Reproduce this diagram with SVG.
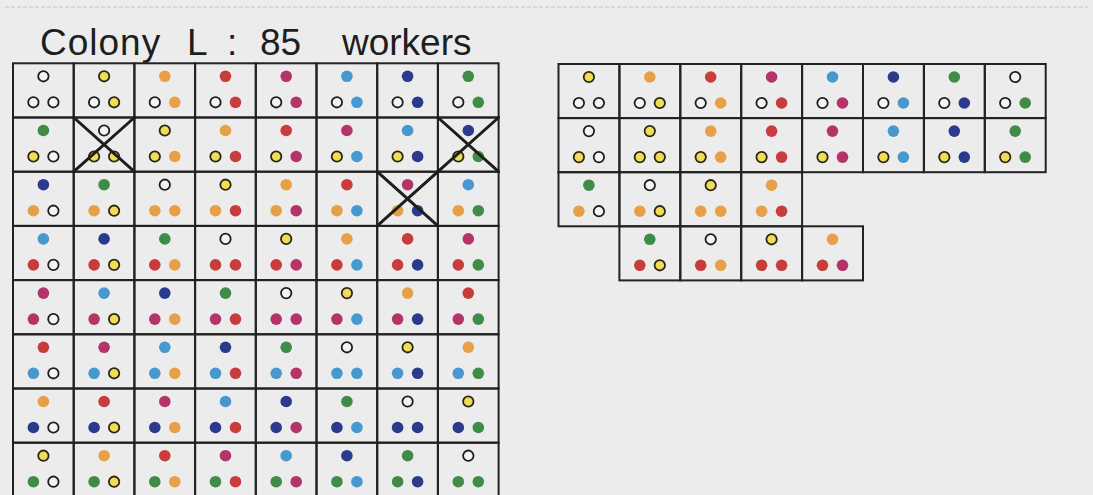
<svg xmlns="http://www.w3.org/2000/svg" xmlns:xlink="http://www.w3.org/1999/xlink" width="1093" height="495" viewBox="0 0 1093 495">
<style>
.bg{fill:#ececec}
.cl{fill:none;stroke:#222;stroke-width:2}
.c0{fill:#f4f4f4;stroke:#1e1e1e;stroke-width:1.8}
.c1{fill:#f0dc58;stroke:#2a2612;stroke-width:1.8}
.c2{fill:#e8a048}
.c3{fill:#c83c3c}
.c4{fill:#b4346a}
.c5{fill:#4898d0}
.c6{fill:#2c3a8e}
.c7{fill:#3e8c48}
.x{stroke:#1e1e1e;stroke-width:3;stroke-linecap:round}
.title{font-family:"Liberation Sans",Arial,sans-serif;font-size:37px;fill:#1e1e1e}
</style>
<defs>
<rect id="ka" class="cl" width="60.7" height="54.2"/>
<rect id="kb" class="cl" width="60.9" height="54.1"/>
<circle id="t0" class="c0" cx="30.4" cy="13" r="5.2"/>
<circle id="t1" class="c1" cx="30.4" cy="13" r="5.2"/>
<circle id="t2" class="c2" cx="30.4" cy="13" r="5.8"/>
<circle id="t3" class="c3" cx="30.4" cy="13" r="5.8"/>
<circle id="t4" class="c4" cx="30.4" cy="13" r="5.8"/>
<circle id="t5" class="c5" cx="30.4" cy="13" r="5.8"/>
<circle id="t6" class="c6" cx="30.4" cy="13" r="5.8"/>
<circle id="t7" class="c7" cx="30.4" cy="13" r="5.8"/>
<circle id="l0" class="c0" cx="20.4" cy="39" r="5.2"/>
<circle id="l1" class="c1" cx="20.4" cy="39" r="5.2"/>
<circle id="l2" class="c2" cx="20.4" cy="39" r="5.8"/>
<circle id="l3" class="c3" cx="20.4" cy="39" r="5.8"/>
<circle id="l4" class="c4" cx="20.4" cy="39" r="5.8"/>
<circle id="l5" class="c5" cx="20.4" cy="39" r="5.8"/>
<circle id="l6" class="c6" cx="20.4" cy="39" r="5.8"/>
<circle id="l7" class="c7" cx="20.4" cy="39" r="5.8"/>
<circle id="r0" class="c0" cx="40.4" cy="39" r="5.2"/>
<circle id="r1" class="c1" cx="40.4" cy="39" r="5.2"/>
<circle id="r2" class="c2" cx="40.4" cy="39" r="5.8"/>
<circle id="r3" class="c3" cx="40.4" cy="39" r="5.8"/>
<circle id="r4" class="c4" cx="40.4" cy="39" r="5.8"/>
<circle id="r5" class="c5" cx="40.4" cy="39" r="5.8"/>
<circle id="r6" class="c6" cx="40.4" cy="39" r="5.8"/>
<circle id="r7" class="c7" cx="40.4" cy="39" r="5.8"/>
</defs>
<rect class="bg" x="0" y="0" width="1093" height="495"/>
<line x1="5" y1="7" x2="1088" y2="7" stroke="#c6c6c6" stroke-width="1" stroke-dasharray="4 2"/>
<g id="title">
<text class="title" y="55"><tspan x="40" letter-spacing="1">Colony</tspan><tspan x="187">L</tspan><tspan x="227">:</tspan><tspan x="260">85</tspan><tspan x="342">workers</tspan></text>
</g>
<g id="left-grid">
<g id="a00" transform="translate(13 63.3)"><use href="#ka"/><use href="#t0"/><use href="#l0"/><use href="#r0"/></g>
<g id="a01" transform="translate(73.7 63.3)"><use href="#ka"/><use href="#t1"/><use href="#l0"/><use href="#r1"/></g>
<g id="a02" transform="translate(134.4 63.3)"><use href="#ka"/><use href="#t2"/><use href="#l0"/><use href="#r2"/></g>
<g id="a03" transform="translate(195.1 63.3)"><use href="#ka"/><use href="#t3"/><use href="#l0"/><use href="#r3"/></g>
<g id="a04" transform="translate(255.8 63.3)"><use href="#ka"/><use href="#t4"/><use href="#l0"/><use href="#r4"/></g>
<g id="a05" transform="translate(316.5 63.3)"><use href="#ka"/><use href="#t5"/><use href="#l0"/><use href="#r5"/></g>
<g id="a06" transform="translate(377.2 63.3)"><use href="#ka"/><use href="#t6"/><use href="#l0"/><use href="#r6"/></g>
<g id="a07" transform="translate(437.9 63.3)"><use href="#ka"/><use href="#t7"/><use href="#l0"/><use href="#r7"/></g>

<g id="a10" transform="translate(13 117.5)"><use href="#ka"/><use href="#t7"/><use href="#l1"/><use href="#r0"/></g>
<g id="a11" transform="translate(73.7 117.5)"><use href="#ka"/><use href="#t0"/><use href="#l1"/><use href="#r1"/></g>
<g id="a12" transform="translate(134.4 117.5)"><use href="#ka"/><use href="#t1"/><use href="#l1"/><use href="#r2"/></g>
<g id="a13" transform="translate(195.1 117.5)"><use href="#ka"/><use href="#t2"/><use href="#l1"/><use href="#r3"/></g>
<g id="a14" transform="translate(255.8 117.5)"><use href="#ka"/><use href="#t3"/><use href="#l1"/><use href="#r4"/></g>
<g id="a15" transform="translate(316.5 117.5)"><use href="#ka"/><use href="#t4"/><use href="#l1"/><use href="#r5"/></g>
<g id="a16" transform="translate(377.2 117.5)"><use href="#ka"/><use href="#t5"/><use href="#l1"/><use href="#r6"/></g>
<g id="a17" transform="translate(437.9 117.5)"><use href="#ka"/><use href="#t6"/><use href="#l1"/><use href="#r7"/></g>

<g id="a20" transform="translate(13 171.7)"><use href="#ka"/><use href="#t6"/><use href="#l2"/><use href="#r0"/></g>
<g id="a21" transform="translate(73.7 171.7)"><use href="#ka"/><use href="#t7"/><use href="#l2"/><use href="#r1"/></g>
<g id="a22" transform="translate(134.4 171.7)"><use href="#ka"/><use href="#t0"/><use href="#l2"/><use href="#r2"/></g>
<g id="a23" transform="translate(195.1 171.7)"><use href="#ka"/><use href="#t1"/><use href="#l2"/><use href="#r3"/></g>
<g id="a24" transform="translate(255.8 171.7)"><use href="#ka"/><use href="#t2"/><use href="#l2"/><use href="#r4"/></g>
<g id="a25" transform="translate(316.5 171.7)"><use href="#ka"/><use href="#t3"/><use href="#l2"/><use href="#r5"/></g>
<g id="a26" transform="translate(377.2 171.7)"><use href="#ka"/><use href="#t4"/><use href="#l2"/><use href="#r6"/></g>
<g id="a27" transform="translate(437.9 171.7)"><use href="#ka"/><use href="#t5"/><use href="#l2"/><use href="#r7"/></g>

<g id="a30" transform="translate(13 225.9)"><use href="#ka"/><use href="#t5"/><use href="#l3"/><use href="#r0"/></g>
<g id="a31" transform="translate(73.7 225.9)"><use href="#ka"/><use href="#t6"/><use href="#l3"/><use href="#r1"/></g>
<g id="a32" transform="translate(134.4 225.9)"><use href="#ka"/><use href="#t7"/><use href="#l3"/><use href="#r2"/></g>
<g id="a33" transform="translate(195.1 225.9)"><use href="#ka"/><use href="#t0"/><use href="#l3"/><use href="#r3"/></g>
<g id="a34" transform="translate(255.8 225.9)"><use href="#ka"/><use href="#t1"/><use href="#l3"/><use href="#r4"/></g>
<g id="a35" transform="translate(316.5 225.9)"><use href="#ka"/><use href="#t2"/><use href="#l3"/><use href="#r5"/></g>
<g id="a36" transform="translate(377.2 225.9)"><use href="#ka"/><use href="#t3"/><use href="#l3"/><use href="#r6"/></g>
<g id="a37" transform="translate(437.9 225.9)"><use href="#ka"/><use href="#t4"/><use href="#l3"/><use href="#r7"/></g>

<g id="a40" transform="translate(13 280.1)"><use href="#ka"/><use href="#t4"/><use href="#l4"/><use href="#r0"/></g>
<g id="a41" transform="translate(73.7 280.1)"><use href="#ka"/><use href="#t5"/><use href="#l4"/><use href="#r1"/></g>
<g id="a42" transform="translate(134.4 280.1)"><use href="#ka"/><use href="#t6"/><use href="#l4"/><use href="#r2"/></g>
<g id="a43" transform="translate(195.1 280.1)"><use href="#ka"/><use href="#t7"/><use href="#l4"/><use href="#r3"/></g>
<g id="a44" transform="translate(255.8 280.1)"><use href="#ka"/><use href="#t0"/><use href="#l4"/><use href="#r4"/></g>
<g id="a45" transform="translate(316.5 280.1)"><use href="#ka"/><use href="#t1"/><use href="#l4"/><use href="#r5"/></g>
<g id="a46" transform="translate(377.2 280.1)"><use href="#ka"/><use href="#t2"/><use href="#l4"/><use href="#r6"/></g>
<g id="a47" transform="translate(437.9 280.1)"><use href="#ka"/><use href="#t3"/><use href="#l4"/><use href="#r7"/></g>

<g id="a50" transform="translate(13 334.3)"><use href="#ka"/><use href="#t3"/><use href="#l5"/><use href="#r0"/></g>
<g id="a51" transform="translate(73.7 334.3)"><use href="#ka"/><use href="#t4"/><use href="#l5"/><use href="#r1"/></g>
<g id="a52" transform="translate(134.4 334.3)"><use href="#ka"/><use href="#t5"/><use href="#l5"/><use href="#r2"/></g>
<g id="a53" transform="translate(195.1 334.3)"><use href="#ka"/><use href="#t6"/><use href="#l5"/><use href="#r3"/></g>
<g id="a54" transform="translate(255.8 334.3)"><use href="#ka"/><use href="#t7"/><use href="#l5"/><use href="#r4"/></g>
<g id="a55" transform="translate(316.5 334.3)"><use href="#ka"/><use href="#t0"/><use href="#l5"/><use href="#r5"/></g>
<g id="a56" transform="translate(377.2 334.3)"><use href="#ka"/><use href="#t1"/><use href="#l5"/><use href="#r6"/></g>
<g id="a57" transform="translate(437.9 334.3)"><use href="#ka"/><use href="#t2"/><use href="#l5"/><use href="#r7"/></g>

<g id="a60" transform="translate(13 388.5)"><use href="#ka"/><use href="#t2"/><use href="#l6"/><use href="#r0"/></g>
<g id="a61" transform="translate(73.7 388.5)"><use href="#ka"/><use href="#t3"/><use href="#l6"/><use href="#r1"/></g>
<g id="a62" transform="translate(134.4 388.5)"><use href="#ka"/><use href="#t4"/><use href="#l6"/><use href="#r2"/></g>
<g id="a63" transform="translate(195.1 388.5)"><use href="#ka"/><use href="#t5"/><use href="#l6"/><use href="#r3"/></g>
<g id="a64" transform="translate(255.8 388.5)"><use href="#ka"/><use href="#t6"/><use href="#l6"/><use href="#r4"/></g>
<g id="a65" transform="translate(316.5 388.5)"><use href="#ka"/><use href="#t7"/><use href="#l6"/><use href="#r5"/></g>
<g id="a66" transform="translate(377.2 388.5)"><use href="#ka"/><use href="#t0"/><use href="#l6"/><use href="#r6"/></g>
<g id="a67" transform="translate(437.9 388.5)"><use href="#ka"/><use href="#t1"/><use href="#l6"/><use href="#r7"/></g>

<g id="a70" transform="translate(13 442.7)"><use href="#ka"/><use href="#t1"/><use href="#l7"/><use href="#r0"/></g>
<g id="a71" transform="translate(73.7 442.7)"><use href="#ka"/><use href="#t2"/><use href="#l7"/><use href="#r1"/></g>
<g id="a72" transform="translate(134.4 442.7)"><use href="#ka"/><use href="#t3"/><use href="#l7"/><use href="#r2"/></g>
<g id="a73" transform="translate(195.1 442.7)"><use href="#ka"/><use href="#t4"/><use href="#l7"/><use href="#r3"/></g>
<g id="a74" transform="translate(255.8 442.7)"><use href="#ka"/><use href="#t5"/><use href="#l7"/><use href="#r4"/></g>
<g id="a75" transform="translate(316.5 442.7)"><use href="#ka"/><use href="#t6"/><use href="#l7"/><use href="#r5"/></g>
<g id="a76" transform="translate(377.2 442.7)"><use href="#ka"/><use href="#t7"/><use href="#l7"/><use href="#r6"/></g>
<g id="a77" transform="translate(437.9 442.7)"><use href="#ka"/><use href="#t0"/><use href="#l7"/><use href="#r7"/></g>
</g>
<g id="right-grid">
<g id="b00" transform="translate(558.5 64)"><use href="#kb"/><use href="#t1"/><use href="#l0"/><use href="#r0"/></g>
<g id="b01" transform="translate(619.4 64)"><use href="#kb"/><use href="#t2"/><use href="#l0"/><use href="#r1"/></g>
<g id="b02" transform="translate(680.3 64)"><use href="#kb"/><use href="#t3"/><use href="#l0"/><use href="#r2"/></g>
<g id="b03" transform="translate(741.2 64)"><use href="#kb"/><use href="#t4"/><use href="#l0"/><use href="#r3"/></g>
<g id="b04" transform="translate(802.1 64)"><use href="#kb"/><use href="#t5"/><use href="#l0"/><use href="#r4"/></g>
<g id="b05" transform="translate(863 64)"><use href="#kb"/><use href="#t6"/><use href="#l0"/><use href="#r5"/></g>
<g id="b06" transform="translate(923.9 64)"><use href="#kb"/><use href="#t7"/><use href="#l0"/><use href="#r6"/></g>
<g id="b07" transform="translate(984.8 64)"><use href="#kb"/><use href="#t0"/><use href="#l0"/><use href="#r7"/></g>

<g id="b10" transform="translate(558.5 118.1)"><use href="#kb"/><use href="#t0"/><use href="#l1"/><use href="#r0"/></g>
<g id="b11" transform="translate(619.4 118.1)"><use href="#kb"/><use href="#t1"/><use href="#l1"/><use href="#r1"/></g>
<g id="b12" transform="translate(680.3 118.1)"><use href="#kb"/><use href="#t2"/><use href="#l1"/><use href="#r2"/></g>
<g id="b13" transform="translate(741.2 118.1)"><use href="#kb"/><use href="#t3"/><use href="#l1"/><use href="#r3"/></g>
<g id="b14" transform="translate(802.1 118.1)"><use href="#kb"/><use href="#t4"/><use href="#l1"/><use href="#r4"/></g>
<g id="b15" transform="translate(863 118.1)"><use href="#kb"/><use href="#t5"/><use href="#l1"/><use href="#r5"/></g>
<g id="b16" transform="translate(923.9 118.1)"><use href="#kb"/><use href="#t6"/><use href="#l1"/><use href="#r6"/></g>
<g id="b17" transform="translate(984.8 118.1)"><use href="#kb"/><use href="#t7"/><use href="#l1"/><use href="#r7"/></g>

<g id="b20" transform="translate(558.5 172.2)"><use href="#kb"/><use href="#t7"/><use href="#l2"/><use href="#r0"/></g>
<g id="b21" transform="translate(619.4 172.2)"><use href="#kb"/><use href="#t0"/><use href="#l2"/><use href="#r1"/></g>
<g id="b22" transform="translate(680.3 172.2)"><use href="#kb"/><use href="#t1"/><use href="#l2"/><use href="#r2"/></g>
<g id="b23" transform="translate(741.2 172.2)"><use href="#kb"/><use href="#t2"/><use href="#l2"/><use href="#r3"/></g>

<g id="b31" transform="translate(619.4 226.3)"><use href="#kb"/><use href="#t7"/><use href="#l3"/><use href="#r1"/></g>
<g id="b32" transform="translate(680.3 226.3)"><use href="#kb"/><use href="#t0"/><use href="#l3"/><use href="#r2"/></g>
<g id="b33" transform="translate(741.2 226.3)"><use href="#kb"/><use href="#t1"/><use href="#l3"/><use href="#r3"/></g>
<g id="b34" transform="translate(802.1 226.3)"><use href="#kb"/><use href="#t2"/><use href="#l3"/><use href="#r4"/></g>
</g>
<g id="removed-marks">
<line class="x" x1="73.7" y1="117.5" x2="134.4" y2="171.7"/>
<line class="x" x1="134.4" y1="117.5" x2="73.7" y2="171.7"/>
<line class="x" x1="437.9" y1="117.5" x2="498.6" y2="171.7"/>
<line class="x" x1="498.6" y1="117.5" x2="437.9" y2="171.7"/>
<line class="x" x1="377.2" y1="171.7" x2="437.9" y2="225.9"/>
<line class="x" x1="437.9" y1="171.7" x2="377.2" y2="225.9"/>
</g>
</svg>
